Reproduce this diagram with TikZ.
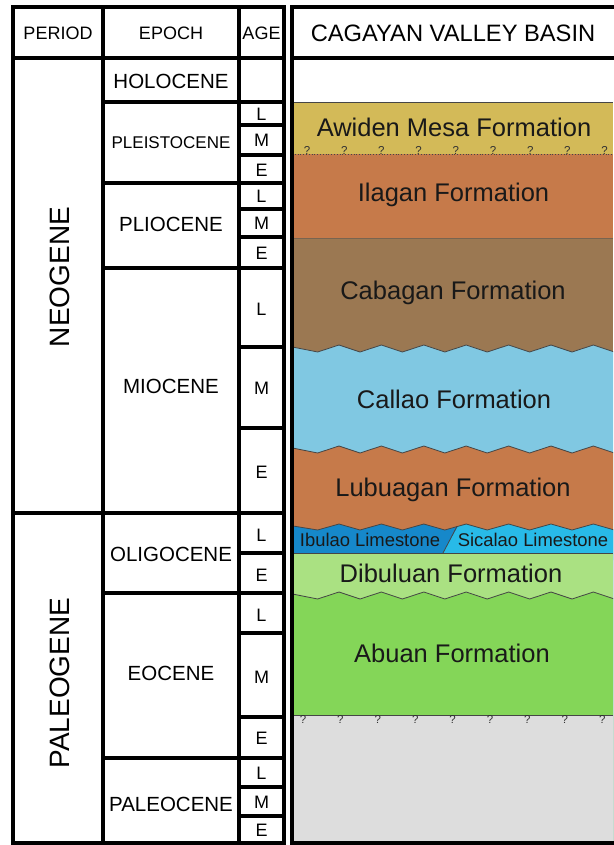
\documentclass[tikz,border=0pt]{standalone}
\usepackage{fontspec}
\setmainfont{Liberation Sans}
\definecolor{awiden}{RGB}{211,186,88}
\definecolor{ilagan}{RGB}{198,122,74}
\definecolor{cabagan}{RGB}{155,120,82}
\definecolor{callao}{RGB}{128,200,226}
\definecolor{ibulao}{RGB}{22,136,202}
\definecolor{sicalao}{RGB}{40,186,232}
\definecolor{dibuluan}{RGB}{170,225,130}
\definecolor{abuan}{RGB}{132,214,88}
\definecolor{basement}{RGB}{221,221,221}
\definecolor{bline}{RGB}{70,70,70}
\definecolor{qcol}{RGB}{50,50,50}
\newcommand{\zzpath}[2]{-- (290,#1+1.5) \foreach \i in {0,...,8}{ -- ({317.6+42.4*\i},#2) -- ({339+42.4*\i},#1)}}
\tikzset{
  tbl/.style={line width=3.2pt, black},
  bnd/.style={line width=0.8pt, bline},
  hdr/.style={font=\fontsize{18}{20}\selectfont, inner sep=0pt},
  bighdr/.style={font=\fontsize{23.7}{26}\selectfont, inner sep=0pt},
  epochtxt/.style={font=\fontsize{20.5}{22}\selectfont, inner sep=0pt},
  agetxt/.style={font=\fontsize{18}{20}\selectfont, inner sep=0pt},
  periodtxt/.style={font=\fontsize{28}{30}\selectfont, inner sep=0pt, rotate=90},
  fm/.style={font=\fontsize{25.5}{28}\selectfont, inner sep=0pt, anchor=base, text={rgb,255:red,25;green,25;blue,25}},
  lms/.style={font=\fontsize{18.4}{20}\selectfont, inner sep=0pt, anchor=base, text={rgb,255:red,25;green,25;blue,25}},
  qm/.style={font=\fontsize{11.5}{12}\selectfont, inner sep=0pt, text=qcol}
}
\begin{document}
\begin{tikzpicture}[x=1pt,y=-1pt]
\useasboundingbox (0,0) rectangle (613,845);
\fill[white] (0,0) rectangle (613,845);

% ---- basin column fills (painter's order) ----
\begin{scope}
\clip (292,58) rectangle (613,843);
\fill[awiden] (292,102) rectangle (613,843);
\fill[ilagan] (292,154) rectangle (613,843);
\fill[cabagan] (292,238) rectangle (613,843);
\fill[callao] (290,843) \zzpath{345}{352} -- (700,843) -- cycle;
\fill[ilagan] (290,843) \zzpath{446}{453} -- (700,843) -- cycle;
\fill[ibulao] (290,843) \zzpath{524}{530} -- (700,843) -- cycle;
\begin{scope}
\clip (462,519) -- (620,519) -- (620,560) -- (439.1,560) -- cycle;
\fill[sicalao] (290,843) \zzpath{524}{530} -- (700,843) -- cycle;
\end{scope}
\fill[dibuluan] (292,553) rectangle (613,843);
\fill[abuan] (290,843) \zzpath{592}{599} -- (700,843) -- cycle;
\fill[basement] (292,715) rectangle (613,843);
% boundaries
\draw[bnd] (292,102) -- (613,102);
\draw[bnd, dotted] (292,154) -- (613,154);
\draw[bnd, line width=1pt, draw={rgb,255:red,120;green,100;blue,80}] (292,238) -- (613,238);
\draw[bnd] (290,346.5) \zzpath{345}{352};
\draw[bnd] (290,447.5) \zzpath{446}{453};
\draw[bnd] (290,525.5) \zzpath{524}{530};
\draw[bnd] (292,553) -- (613,553);
\draw[bnd] (290,593.5) \zzpath{592}{599};
\draw[bnd] (292,715) -- (613,715);
\coordinate (slantTop) at (457,526.3);
\coordinate (slantBot) at (443,553);
\draw[bnd] (slantTop) -- (slantBot);
\end{scope}

% question marks
\foreach \k in {0,...,8} {
  \node[qm] (qa\k) at ({307+37.2*\k},150.5) {?};
  \node[qm] (qb\k) at ({303+37.4*\k},719.5) {?};
}

% ---- table lines ----
\draw[tbl] (13,7) rectangle (284,843);
\draw[tbl] (103,7) -- (103,843);
\draw[tbl] (239,7) -- (239,843);
\draw[tbl] (13,58) -- (284,58);
\draw[tbl] (13,513) -- (284,513);
\foreach \yy in {102,183,268,593,758} \draw[tbl] (103,\yy) -- (284,\yy);
\foreach \yy in {125,155,209,237,347,428,553,633,717,787,816} \draw[tbl] (239,\yy) -- (284,\yy);
\draw[tbl] (616,7) -- (292,7) -- (292,843) -- (616,843);
\draw[tbl] (292,58) -- (616,58);

% ---- header texts ----
\node[hdr] (hPeriod) at (58,33.5) {PERIOD};
\node[hdr] (hEpoch) at (171,33.5) {EPOCH};
\node[hdr] (hAge) at (261.5,33.5) {AGE};
\node[bighdr] (hBasin) at (453,33.5) {CAGAYAN VALLEY BASIN};

% periods
\node[periodtxt] (pNeo) at (60,277) {NEOGENE};
\node[periodtxt] (pPaleo) at (60,683) {PALEOGENE};

% epochs
\node[epochtxt] (eHolo) at (171,81) {HOLOCENE};
\node[epochtxt, font=\fontsize{17}{19}\selectfont] (ePleis) at (171,142.5) {PLEISTOCENE};
\node[epochtxt] (ePlio) at (171,224) {PLIOCENE};
\node[epochtxt] (eMio) at (171,386) {MIOCENE};
\node[epochtxt] (eOligo) at (171,554) {OLIGOCENE};
\node[epochtxt] (eEo) at (171,673) {EOCENE};
\node[epochtxt] (ePaleo) at (171,804) {PALEOCENE};

% ages
\node[agetxt] (a1) at (261.5,114) {L};
\node[agetxt] (a2) at (261.5,140.5) {M};
\node[agetxt] (a3) at (261.5,170) {E};
\node[agetxt] (a4) at (261.5,196.5) {L};
\node[agetxt] (a5) at (261.5,223.5) {M};
\node[agetxt] (a6) at (261.5,253) {E};
\node[agetxt] (a7) at (261.5,309) {L};
\node[agetxt] (a8) at (261.5,388) {M};
\node[agetxt] (a9) at (261.5,472) {E};
\node[agetxt] (a10) at (261.5,535) {L};
\node[agetxt] (a11) at (261.5,575) {E};
\node[agetxt] (a12) at (261.5,615) {L};
\node[agetxt] (a13) at (261.5,677) {M};
\node[agetxt] (a14) at (261.5,738.5) {E};
\node[agetxt] (a15) at (261.5,773) {L};
\node[agetxt] (a16) at (261.5,802) {M};
\node[agetxt] (a17) at (261.5,830) {E};

% formations
\node[fm] (fAwiden) at (454,137) {Awiden Mesa Formation};
\node[fm] (fIlagan) at (453.5,201.5) {Ilagan Formation};
\node[fm] (fCabagan) at (453,299) {Cabagan Formation};
\node[fm] (fCallao) at (454,408) {Callao Formation};
\node[fm] (fLubuagan) at (453,496) {Lubuagan Formation};
\node[lms] (fIbulao) at (370,546.5) {Ibulao Limestone};
\node[lms] (fSicalao) at (533,546.5) {Sicalao Limestone};
\node[fm] (fDibuluan) at (451,582.5) {Dibuluan Formation};
\node[fm] (fAbuan) at (452,662) {Abuan Formation};
\end{tikzpicture}
\end{document}
